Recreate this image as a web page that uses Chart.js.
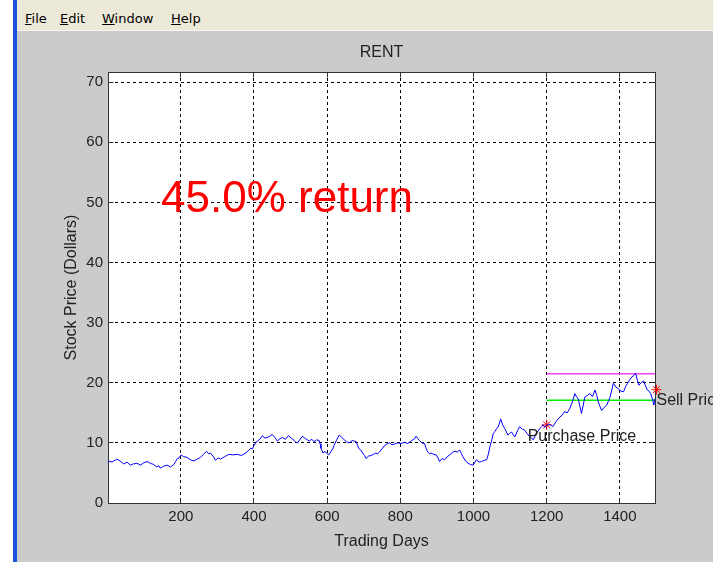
<!DOCTYPE html>
<html>
<head>
<meta charset="utf-8">
<script src="https://cdn.jsdelivr.net/npm/chart.js@4.4.1/dist/chart.umd.min.js"></script>
<style>
  body { margin: 0; width: 713px; height: 562px; overflow: hidden; background: #fff; position: relative; }
  #edge { position: absolute; left: 13px; top: 0; width: 4px; height: 562px; background: #1c52dc; }
  #menu { position: absolute; left: 17px; top: 0; width: 696px; height: 30px; background: #ece9d8; border-bottom: 1px solid #f7f6f0; font-family: "DejaVu Sans", sans-serif; font-size: 13px; color: #000; }
  #menu span { position: absolute; top: 11px; }
  #menu u { text-decoration: underline; }
  #fig { position: absolute; left: 17px; top: 31px; width: 696px; height: 531px; background: #cbcbcb; }
</style>
</head>
<body>
<div id="edge"></div>
<div id="menu">
  <span style="left:8px"><u>F</u>ile</span>
  <span style="left:43px"><u>E</u>dit</span>
  <span style="left:85px"><u>W</u>indow</span>
  <span style="left:154px"><u>H</u>elp</span>
</div>
<div id="fig"><canvas id="rentChart" width="696" height="531"></canvas></div>
<script>
// trading day / closing price
const days = [
  1, 12, 25, 34, 44, 53, 62, 70, 80, 90,
  99, 108, 117, 126, 134, 140, 144, 152, 162, 172,
  181, 186, 189, 195, 201, 208, 217, 226, 236, 245,
  254, 262, 270, 276, 281, 288, 295, 302, 309, 320,
  331, 342, 354, 366, 377, 385, 391, 396, 400, 405,
  409, 416, 423, 430, 436, 443, 450, 457, 464, 471,
  478, 486, 494, 502, 510, 514, 519, 525, 532, 541,
  551, 558, 564, 571, 578, 581, 583, 586, 589, 594,
  598, 604, 610, 615, 619, 626, 633, 640, 647, 653,
  660, 669, 679, 683, 686, 692, 697, 702, 706, 713,
  720, 727, 733, 738, 743, 750, 756, 763, 770, 777,
  784, 793, 802, 811, 820, 827, 834, 839, 843, 848,
  852, 859, 866, 871, 875, 880, 884, 891, 898, 903,
  907, 914, 921, 928, 935, 942, 949, 956, 962, 967,
  971, 978, 985, 992, 999, 1004, 1008, 1015, 1022, 1029,
  1036, 1040, 1045, 1050, 1054, 1059, 1063, 1067, 1071, 1074,
  1079, 1085, 1090, 1094, 1099, 1104, 1109, 1113, 1120, 1126,
  1133, 1140, 1147, 1154, 1159, 1163, 1168, 1172, 1177, 1181,
  1186, 1190, 1195, 1199, 1208, 1217, 1226, 1236, 1242, 1249,
  1256, 1263, 1270, 1277, 1282, 1286, 1291, 1295, 1300, 1304,
  1311, 1318, 1325, 1332, 1337, 1341, 1346, 1350, 1357, 1364,
  1369, 1373, 1378, 1382, 1389, 1396, 1403, 1410, 1416, 1421,
  1427, 1433, 1438, 1443, 1448, 1452, 1458, 1465, 1470, 1475,
  1480, 1484, 1489, 1493, 1496
];
const prices = [
  7.0, 6.8, 7.3, 7.0, 6.5, 6.8, 6.3, 6.5, 6.6, 6.3,
  6.7, 6.9, 6.6, 6.4, 6.0, 6.2, 5.8, 6.1, 6.3, 6.0,
  6.4, 6.9, 7.3, 7.5, 8.0, 7.7, 7.6, 7.2, 7.0, 7.3,
  7.6, 8.1, 8.6, 8.2, 8.3, 7.8, 7.1, 7.5, 7.3, 7.7,
  8.1, 8.0, 8.1, 7.9, 8.3, 8.7, 9.1, 9.0, 9.6, 10.0,
  10.3, 10.6, 11.2, 10.8, 10.9, 11.1, 11.4, 10.9, 10.3, 10.7,
  10.9, 10.6, 11.2, 10.8, 10.4, 10.1, 10.0, 10.5, 11.1, 10.7,
  10.3, 10.6, 10.2, 10.5, 10.4, 9.8, 9.1, 8.7, 8.3, 8.6,
  8.3, 8.0, 8.5, 9.0, 9.6, 10.5, 11.3, 10.9, 10.5, 10.2,
  10.0, 10.4, 10.2, 9.6, 9.1, 8.8, 8.3, 7.9, 7.4, 7.8,
  7.9, 8.1, 8.3, 8.2, 8.5, 9.0, 9.5, 9.8, 10.0, 9.7,
  9.8, 10.0, 9.9, 10.1, 9.9, 10.2, 10.5, 10.7, 11.1, 10.7,
  10.4, 10.0, 9.9, 9.0, 8.5, 8.2, 8.3, 8.1, 8.0, 7.5,
  6.9, 7.4, 7.2, 7.7, 8.0, 8.4, 8.6, 8.5, 8.8, 8.2,
  7.7, 7.0, 6.6, 6.4, 6.3, 6.8, 7.2, 6.8, 6.9, 7.1,
  7.2, 8.0, 9.4, 10.5, 11.6, 11.9, 12.4, 12.6, 13.3, 14.0,
  13.1, 12.4, 11.8, 11.3, 11.6, 11.8, 11.3, 11.0, 12.0, 12.7,
  12.3, 12.1, 11.5, 11.0, 10.8, 10.5, 11.1, 11.6, 12.0, 12.4,
  12.7, 13.0, 12.6, 12.9, 13.1, 12.7, 13.6, 14.3, 14.6, 15.2,
  15.0, 15.7, 16.8, 18.2, 17.6, 17.4, 16.0, 14.9, 16.3, 17.6,
  17.9, 18.2, 17.7, 18.8, 17.9, 16.8, 16.0, 15.4, 15.9, 16.3,
  17.0, 17.6, 18.8, 19.9, 19.3, 19.0, 18.6, 18.5, 19.4, 19.9,
  20.5, 21.0, 21.2, 21.6, 20.4, 19.6, 20.0, 20.3, 19.5, 18.8,
  18.6, 18.2, 17.3, 16.3, 17.4
];

const buyDay = 1200;
const buyPrice = 13.0;
const sellDay = 1500;
const sellPrice = 18.85;
const maxPrice = 21.5;
const meanPrice = 17.1;

const xTicks = [200, 400, 600, 800, 1000, 1200, 1400];
const yTicks = [0, 10, 20, 30, 40, 50, 60, 70];

const priceData = days.map((d, i) => ({ x: d, y: prices[i] }));

const fontFamily = '"Liberation Sans", Arial, sans-serif';

// matlab style axes: white box, frame with inner ticks, title and text labels
const matlabAxes = {
    id: 'matlabAxes',
    beforeDraw(chart) {
        const { ctx, chartArea: a } = chart;
        ctx.save();
        ctx.fillStyle = '#ffffff';
        ctx.fillRect(a.left, a.top, a.right - a.left, a.bottom - a.top);
        ctx.fillStyle = '#222';
        ctx.font = '16px ' + fontFamily;
        ctx.textAlign = 'center';
        ctx.textBaseline = 'middle';
        ctx.fillText('RENT', (a.left + a.right) / 2, a.top - 19);
        ctx.restore();
    },
    beforeDatasetsDraw(chart) {
        const { ctx, chartArea: a, scales } = chart;
        const l = Math.floor(a.left) + 0.5, r = Math.floor(a.right) + 0.5;
        const t = Math.floor(a.top) + 0.5, b = Math.floor(a.bottom) + 0.5;
        ctx.save();
        ctx.strokeStyle = '#333';
        ctx.lineWidth = 1;
        ctx.beginPath();
        xTicks.forEach(v => {
            const px = Math.floor(scales.x.getPixelForValue(v)) + 0.5;
            ctx.moveTo(px, b); ctx.lineTo(px, b - 5);
            ctx.moveTo(px, t); ctx.lineTo(px, t + 5);
        });
        yTicks.forEach(v => {
            const py = Math.floor(scales.y.getPixelForValue(v)) + 0.5;
            ctx.moveTo(l, py); ctx.lineTo(l + 5, py);
            ctx.moveTo(r, py); ctx.lineTo(r - 5, py);
        });
        ctx.stroke();
        ctx.strokeRect(l, t, r - l, b - t);
        ctx.restore();
    },
    afterDatasetsDraw(chart) {
        const { ctx, scales: { x, y } } = chart;
        ctx.save();
        ctx.textBaseline = 'middle';
        ctx.textAlign = 'left';
        ctx.fillStyle = '#222';
        ctx.font = '16px ' + fontFamily;
        ctx.fillText('Purchase Price', x.getPixelForValue(1148), y.getPixelForValue(11.0));
        ctx.fillText('Sell Price', x.getPixelForValue(1500), y.getPixelForValue(17.0));
        ctx.fillStyle = '#ff0000';
        ctx.font = '44px ' + fontFamily;
        ctx.fillText('45.0% return', x.getPixelForValue(146), y.getPixelForValue(50.5));
        ctx.restore();
    }
};

const tickFont = { family: fontFamily, size: 15 };
const labelFont = { family: fontFamily, size: 16 };

new Chart(document.getElementById('rentChart'), {
    type: 'line',
    data: {
        datasets: [{
            label: 'RENT',
            data: priceData,
            borderColor: '#0000ff',
            borderWidth: 1,
            pointRadius: 0,
            tension: 0
        }, {
            label: 'Max',
            data: [{ x: buyDay, y: maxPrice }, { x: sellDay, y: maxPrice }],
            borderColor: '#f040f0',
            borderWidth: 1.5,
            pointRadius: 0
        }, {
            label: 'Mean',
            data: [{ x: buyDay, y: meanPrice }, { x: sellDay, y: meanPrice }],
            borderColor: '#00ee00',
            borderWidth: 1.5,
            pointRadius: 0
        }, {
            label: 'Trades',
            data: [{ x: buyDay, y: buyPrice }, { x: sellDay, y: sellPrice }],
            showLine: false,
            pointStyle: 'star',
            pointRadius: 5,
            borderColor: '#ff0000',
            borderWidth: 1,
            clip: false
        }]
    },
    options: {
        responsive: false,
        animation: false,
        devicePixelRatio: 1,
        layout: { padding: { left: 0, top: 41, right: 58, bottom: 0 } },
        plugins: {
            legend: { display: false },
            tooltip: { enabled: false },
            title: { display: false }
        },
        scales: {
            x: {
                type: 'linear',
                min: 1,
                max: 1496,
                afterBuildTicks: s => { s.ticks = xTicks.map(v => ({ value: v })); },
                afterFit: s => { s.height = 59; },
                grid: { color: '#000', lineWidth: 1, drawTicks: false },
                border: { color: '#333', dash: [3, 3] },
                ticks: { color: '#222', font: tickFont, padding: 5, maxRotation: 0, callback: v => String(v) },
                title: { display: true, text: 'Trading Days', color: '#222', font: labelFont, padding: { top: 0, bottom: 10.4 } }
            },
            y: {
                min: 0,
                max: 71.7,
                afterBuildTicks: s => { s.ticks = yTicks.map(v => ({ value: v })); },
                afterFit: s => { s.width = 91; },
                grid: { color: '#000', lineWidth: 1, drawTicks: false },
                border: { color: '#333', dash: [3, 3] },
                ticks: { color: '#222', font: tickFont, padding: 5, callback: v => String(v) },
                title: { display: true, text: 'Stock Price (Dollars)', color: '#222', font: labelFont, padding: { top: 45.4, bottom: 0 } }
            }
        }
    },
    plugins: [matlabAxes]
});
</script>
</body>
</html>
